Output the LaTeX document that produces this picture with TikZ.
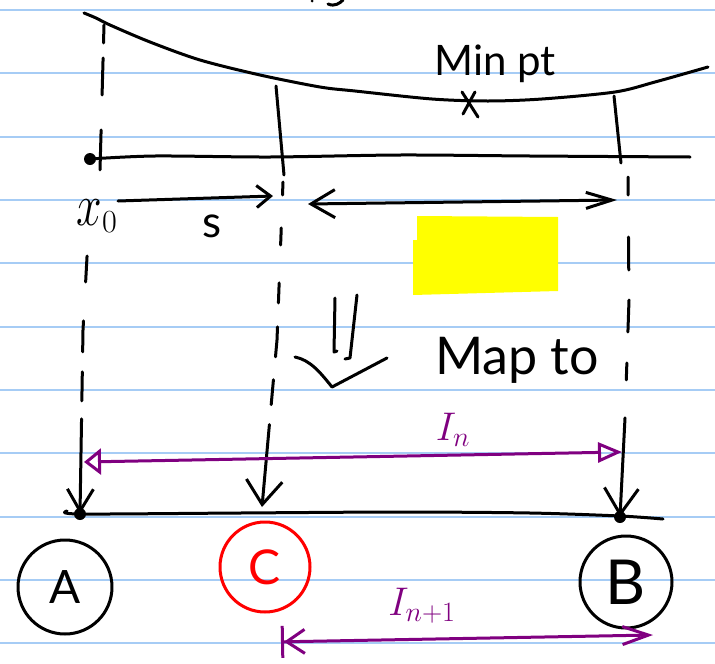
\RequirePackage{fix-cm}
\documentclass[tikz,border=0pt]{standalone}
\usepackage{fontspec}
\setmainfont{Lato}
\usetikzlibrary{arrows.meta}
\definecolor{rulecol}{RGB}{166,204,245}
\definecolor{purp}{RGB}{128,0,128}
\definecolor{redink}{RGB}{255,0,0}
\definecolor{hl}{RGB}{255,255,0}
\begin{document}
\begin{tikzpicture}[x=1pt,y=-1pt,line cap=round,line join=round,
  ink/.style={draw=black,line width=3pt},
  pink/.style={draw=purp,line width=3pt},
  circ/.style={circle,draw=black,line width=3pt,minimum size=94pt,inner sep=0pt},
  lbl/.style={inner sep=0pt}]
\useasboundingbox (0,0) rectangle (715,664);
\fill[white] (0,0) rectangle (715,664);
% ruled paper
\foreach \k in {0,...,10}
  \draw[rulecol,line width=2pt] (0,{10+63.33*\k}) -- (715,{10+63.33*\k});
% fragment at the top edge
\fill (312,1) circle (1.5);
\draw[ink] (328,4) .. controls (335,7) and (340,3) .. (343,0);
% top curve
\draw[ink] plot[smooth] coordinates {(84,13)(96,18)(110,25)(150,42)(200,60)(260,75)(320,87)(355,91)(432,99)(488,101)(542,99)(615,92)(655,82)(708,67)};
% upper axis
\draw[ink] plot[smooth] coordinates {(90,159)(155,156)(270,157)(400,155)(530,156)(690,157)};
\coordinate (x0) at (90,159);
\fill (x0) circle (6);
% min point
\draw[ink] (462,92) -- (478,117);
\draw[ink] (475,92) -- (463,114);
\node[lbl,font=\fontsize{42}{44}\selectfont] (minpt) at (495,64) {Min pt};
% yellow highlight
\fill[hl] (417,216) -- (558,217) -- (558,291) -- (413,295) -- (413,240) -- (417,240) -- cycle;
% circles
\node[circ] (A) at (65,587) {\fontsize{46}{48}\selectfont A};
\node[circ,draw=redink,text=redink,minimum size=90pt] (C) at (265,567) {\fontsize{48}{50}\selectfont C};
\node[circ,minimum size=92pt] (B) at (626,582) {\fontsize{62}{64}\selectfont B};
% lower axis
\coordinate (Adot) at (80,514);
\coordinate (Bdot) at (620,517);
\coordinate (Ctip) at (262,507);
\draw[ink] plot[smooth] coordinates {(67,511)(80,514)(240,513)(400,512)(530,513)(620,516)(663,519)};
\fill (Adot) circle (6);
\fill (Bdot) circle (6);
% left dashed line
\coordinate (L0) at (104,25);
\coordinate (L1) at (100,170);
\coordinate (L2) at (87,257);
\coordinate (L3) at (83,330);
\draw[ink,dash pattern=on 18pt off 15pt on 37pt off 35pt on 40pt off 87pt on 26pt off 39pt on 31pt off 20pt on 29pt off 18pt on 300pt,-{Straight Barb[length=22pt,width=26pt]}]
  (L0) -- (L1) -- (L2) -- (L3) -- (Adot);
% middle line
\coordinate (M0) at (276,86);
\coordinate (M1) at (284,175);
\coordinate (M2) at (283,182);
\coordinate (M3) at (277,340);
\draw[ink] (M0) -- (M1);
\draw[ink,dash pattern=on 13pt off 33pt on 17pt off 38pt on 20pt off 24pt on 30pt off 23pt on 25pt off 20pt on 300pt,-{Straight Barb[length=24pt,width=36pt]}]
  (M2) -- (M3) -- (Ctip);
% right line
\coordinate (R0) at (614,96);
\coordinate (R1) at (621,163);
\coordinate (R2) at (628,177);
\coordinate (R3) at (629,300);
\coordinate (R4) at (625,418);
\draw[ink] (R0) -- (R1);
\draw[ink,dash pattern=on 18pt off 42pt on 33pt off 30pt on 32pt off 31pt on 17pt off 38pt on 300pt,-{Straight Barb[length=26pt,width=34pt]}]
  (R2) -- (R3) -- (R4) -- (Bdot);
% x0 and s
\node[lbl,font=\fontsize{46}{48}\selectfont] (x0lbl) at (97,216) {\scalebox{1}[1.3]{$x$}$_0$};
\coordinate (S0) at (118,201);
\coordinate (S1) at (273,196);
\draw[ink,-{Straight Barb[length=14pt,width=22pt]}] (S0) -- (S1);
\node[lbl,font=\fontsize{44}{46}\selectfont] (slbl) at (212,226) {s};
% double arrow
\coordinate (D0) at (308,204);
\coordinate (D1) at (617,200);
\draw[ink,{Straight Barb[length=24pt,width=28pt]}-{Straight Barb[length=26pt,width=16pt]}] (D0) -- (D1);
% implies sign
\draw[ink] (335,298) -- (334,352) -- (337,351);
\draw[ink] (357,295) -- (350,358) -- (345,359);
\draw[ink] (295,357) .. controls (310,360) and (320,372) .. (332,387) -- (387,358);
\node[lbl,font=\fontsize{52}{55}\selectfont] (mapto) at (517,360) {Map to};
% I_n
\coordinate (In0) at (84,462);
\coordinate (In1) at (622,452);
\draw[pink,{Triangle[open,length=17pt,width=26pt]}-{Triangle[open,length=24pt,width=20pt]}] (In0) -- (In1);
\node[lbl,text=purp,font=\fontsize{40}{42}\selectfont] (Inl) at (453,430) {$I_n$};
% I_{n+1}
\coordinate (J0) at (272,642);
\coordinate (J1) at (653,635);
\draw[pink,{Bar[width=32pt,sep=9pt]Straight Barb[length=18pt,width=24pt]}-{Straight Barb[length=26pt,width=18pt]}] (J0) -- (J1);
\node[lbl,text=purp,font=\fontsize{40}{42}\selectfont] (Jl) at (422,606) {$I_{n+1}$};
\end{tikzpicture}
\end{document}
